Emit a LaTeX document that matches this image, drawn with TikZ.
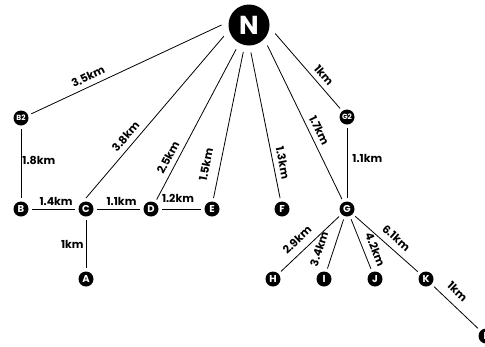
\documentclass[tikz,border=0pt]{standalone}
\usepackage{fontspec}
\setmainfont{Poppins}
\begin{document}
\begin{tikzpicture}[x=1pt,y=-1pt,
  stn/.style={circle, fill=black, draw=none, minimum size=15pt, inner sep=0pt, outer sep=3.5pt, text=white, font=\fontsize{10}{10}\selectfont\bfseries},
  stnsmall/.style={stn, font=\fontsize{7.5}{7.5}\selectfont\bfseries},
  hub/.style={stn, minimum size=41pt, outer sep=7pt, font=\fontsize{26}{26}\selectfont\bfseries},
  link/.style={line width=0.8pt},
  lab/.style={font=\fontsize{11}{12}\selectfont\bfseries, inner sep=1pt, sloped, above=4pt},
  hlab/.style={font=\fontsize{11}{12}\selectfont\bfseries, inner sep=1pt, above=2pt},
  vlab/.style={font=\fontsize{11}{12}\selectfont\bfseries, inner sep=1pt}
]
\useasboundingbox (0,0) rectangle (485,346);
% nodes
\node[hub] (N) at (249,25) {N};
\node[stnsmall] (B2) at (21,118) {B2};
\node[stnsmall] (G2) at (347,117) {G2};
\node[stn] (B) at (21,209) {B};
\node[stn] (C) at (86,209) {C};
\node[stn] (D) at (151,209) {D};
\node[stn] (E) at (212,209) {E};
\node[stn] (F) at (282,209) {F};
\node[stn] (G) at (347,209) {G};
\node[stn] (A) at (86,279) {A};
\node[stn] (H) at (273,279) {H};
\node[stn] (I) at (324,279) {I};
\node[stn] (J) at (375,279) {J};
\node[stn] (K) at (426,279) {K};
\node[stn] (L) at (486,336) {L};
% links from N
\draw[link] (N.180) -- node[lab, pos=0.68] {3.5km} (B2.22);
\draw[link] (N.204) -- node[lab, pos=0.66] {3.8km} (C.90);
\draw[link] (N.242) -- node[lab, pos=0.75] {2.5km} (D.59);
\draw[link] (N.258) -- node[lab, pos=0.79, above=4.5pt] {1.5km} (E.82);
\draw[link] (N.274) -- node[lab, pos=0.77] {1.3km} (F.100);
\draw[link] (N.312) -- node[lab, pos=0.58] {1.7km} (G.117);
\draw[link] (N.342) -- node[lab, pos=0.64] {1km} (G2.129);
% other links
\draw[link] (B2) -- node[vlab, right=0pt, pos=0.46] {1.8km} (B);
\draw[link] (G2) -- node[vlab, right=4pt, pos=0.43] {1.1km} (G);
\draw[link] (B) -- node[hlab, pos=0.56] {1.4km} (C);
\draw[link] (C) -- node[hlab, pos=0.57] {1.1km} (D);
\draw[link] (D) -- node[hlab, pos=0.41, above=3pt] {1.2km} (E);
\draw[link] (C) -- node[vlab, left=1pt, pos=0.5] {1km} (A);
\draw[link] (G) -- node[lab, pos=0.58, above=2.5pt] {2.9km} (H);
\draw[link] (G) -- node[lab, pos=0.69, above=4.5pt] {3.4km} (I);
\draw[link] (G) -- node[lab, pos=0.70, above=1.5pt] {4.2km} (J);
\draw[link] (G) -- node[lab, pos=0.54, above=1.5pt] {6.1km} (K);
\draw[link] (K) -- node[lab, pos=0.34, above=3pt] {1km} (L);
\end{tikzpicture}
\end{document}
